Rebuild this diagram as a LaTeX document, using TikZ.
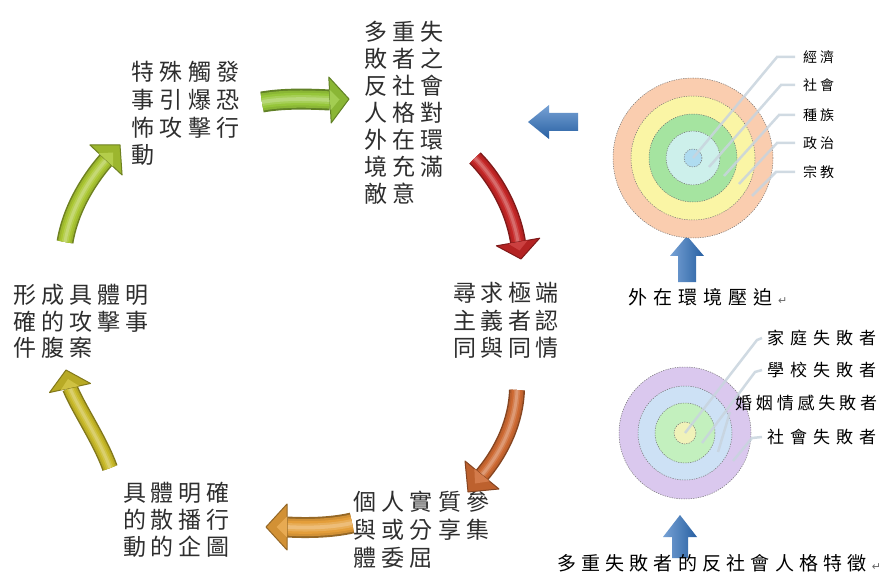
\documentclass[tikz,border=0pt]{standalone}
\usepackage{fontspec}
\newfontfamily\cjk{Noto Sans CJK TC}
\newfontfamily\dvs{DejaVu Sans}
\usetikzlibrary{calc}
\definecolor{grnT}{RGB}{150,198,58}
\definecolor{redA}{RGB}{196,38,38}
\definecolor{orgA}{RGB}{205,105,50}
\definecolor{gldA}{RGB}{228,158,58}
\definecolor{olvA}{RGB}{200,185,40}
\definecolor{ygrA}{RGB}{170,198,50}
\definecolor{bluA}{RGB}{46,112,190}
\definecolor{peachA}{RGB}{250,205,175}
\definecolor{yelA}{RGB}{250,245,165}
\definecolor{grnC}{RGB}{165,228,160}
\definecolor{cyaC}{RGB}{205,240,235}
\definecolor{bluC}{RGB}{175,220,240}
\definecolor{lavD}{RGB}{218,200,238}
\definecolor{bluD}{RGB}{205,225,245}
\definecolor{grnD}{RGB}{195,240,190}
\definecolor{yelD}{RGB}{240,242,185}
\definecolor{leadC}{RGB}{200,212,222}
\newcommand\cjrow[2]{\def\cjw{#1}\edef\cjtmp{#2}\expandafter\cjrowaux\cjtmp\relax}
\def\cjrowaux#1{\ifx#1\relax\else\makebox[\cjw][l]{#1}\expandafter\cjrowaux\fi}
\newcommand\tubearrow[8]{%
  \draw[line width=#7, #6!65!black] (#1) .. controls (#2) and (#3) .. (#4);
  \draw[line width=#7*0.82, #6!92!black] (#1) .. controls (#2) and (#3) .. (#4);
  \draw[line width=#7*0.6, #6] (#1) .. controls (#2) and (#3) .. (#4);
  \draw[line width=#7*0.38, #6!85!white] (#1) .. controls (#2) and (#3) .. (#4);
  \draw[line width=#7*0.18, #6!68!white] (#1) .. controls (#2) and (#3) .. (#4);
  \filldraw[fill=#6!92!black, draw=#6!65!black, line width=1pt, line join=round]
    ($(#4)!#8!90:(#5)$) -- (#5) -- ($(#4)!#8!-90:(#5)$) -- cycle;
  \fill[#6!88!white] ($(#4)!0.45*#8!90:(#5)$) -- ($(#4)!0.5!(#5)$) -- ($(#4)!0.45*#8!-90:(#5)$) -- cycle;
}
\tikzset{
  mtxt/.style={anchor=west, inner sep=0pt, font=\cjk\fontsize{23}{23}\selectfont, text=black!82},
  rlab/.style={anchor=west, inner xsep=8pt, inner ysep=0pt, font=\cjk\fontsize{14}{14}\selectfont, text=black},
  blab/.style={anchor=west, inner xsep=5pt, inner ysep=0pt, font=\cjk\fontsize{17}{17}\selectfont, text=black},
  captxt/.style={anchor=west, inner sep=0pt, font=\cjk\fontsize{19}{19}\selectfont, text=black},
  ring/.style={circle, inner sep=0pt, draw=black!55, dash pattern=on 1.2pt off 1.2pt, line width=0.5pt},
  lead/.style={draw=leadC, line width=2.5pt, opacity=0.85},
  bluev/.style={left color=bluA!65!white, right color=bluA!85!black, draw=none},
  blueh/.style={top color=bluA!65!white, bottom color=bluA!85!black, draw=none}
}
\newcommand\retmark{{\dvs\fontsize{11}{11}\selectfont\color{black!60}↵}}
\begin{document}
\begin{tikzpicture}[x=1pt, y=-1pt]
\useasboundingbox (0,0) rectangle (889,588);
\fill[white] (0,0) rectangle (889,588);

% ---------- text blocks of the cycle ----------
\foreach \r [count=\i from 0] in {多重失,敗者之,反社會,人格對,外在環,境充滿,敵意}
  \node[mtxt] (ra\i) at (364,{32+27*\i}) {\cjrow{28pt}{\r}};
\foreach \r [count=\i from 0] in {特殊觸發,事引爆恐,怖攻擊行,動}
  \node[mtxt] (rb\i) at (131,{72+27.7*\i}) {\cjrow{28.5pt}{\r}};
\foreach \r [count=\i from 0] in {形成具體明,確的攻擊事,件腹案}
  \node[mtxt] (rc\i) at (13,{295+26.5*\i}) {\cjrow{28pt}{\r}};
\foreach \r [count=\i from 0] in {尋求極端,主義者認,同與同情}
  \node[mtxt] (rd\i) at (453,{293+27.5*\i}) {\cjrow{27.5pt}{\r}};
\foreach \r [count=\i from 0] in {具體明確,的散播行,動的企圖}
  \node[mtxt] (re\i) at (123,{493+27*\i}) {\cjrow{27.7pt}{\r}};
\foreach \r [count=\i from 0] in {個人實質參,與或分享集,體委屈}
  \node[mtxt] (rf\i) at (353,{502+28*\i}) {\cjrow{28.3pt}{\r}};

% ---------- cycle arrows ----------
\coordinate (g1t) at (262,102); \coordinate (g1a) at (285,98);
\coordinate (g1b) at (310,99);  \coordinate (g1e) at (330,100); \coordinate (g1p) at (349,99);
\tubearrow{g1t}{g1a}{g1b}{g1e}{g1p}{grnT}{21pt}{23pt}

\coordinate (g2t) at (475,158); \coordinate (g2a) at (492,175);
\coordinate (g2b) at (512,205); \coordinate (g2e) at (518,242); \coordinate (g2p) at (521,259);
\tubearrow{g2t}{g2a}{g2b}{g2e}{g2p}{redA}{16pt}{22pt}

\coordinate (g3t) at (517,390); \coordinate (g3a) at (516,420);
\coordinate (g3b) at (503,450); \coordinate (g3e) at (482,475); \coordinate (g3p) at (468,492);
\tubearrow{g3t}{g3a}{g3b}{g3e}{g3p}{orgA}{16pt}{22pt}

\coordinate (g4t) at (352,523); \coordinate (g4a) at (330,528);
\coordinate (g4b) at (305,528); \coordinate (g4e) at (287,527); \coordinate (g4p) at (266,527);
\tubearrow{g4t}{g4a}{g4b}{g4e}{g4p}{gldA}{21pt}{23pt}

\coordinate (g5t) at (110,468); \coordinate (g5a) at (100,440);
\coordinate (g5b) at (78,408);  \coordinate (g5e) at (70,388); \coordinate (g5p) at (66,370);
\tubearrow{g5t}{g5a}{g5b}{g5e}{g5p}{olvA}{16pt}{21pt}

\coordinate (g6t) at (65,242); \coordinate (g6a) at (70,212);
\coordinate (g6b) at (86,183); \coordinate (g6e) at (106,160); \coordinate (g6p) at (120,145);
\tubearrow{g6t}{g6a}{g6b}{g6e}{g6p}{ygrA}{17pt}{22pt}

% ---------- blue block arrows ----------
\coordinate (bl) at (528,122);
\shade[blueh] (bl) -- ++(21,-17) -- ++(0,8) -- ++(29,0) -- ++(0,18) -- ++(-29,0) -- ++(0,8) -- cycle;
\coordinate (bu1) at (687,236);
\shade[bluev] (bu1) -- ++(17,20) -- ++(-8,0) -- ++(0,26) -- ++(-18,0) -- ++(0,-26) -- ++(-8,0) -- cycle;
\coordinate (bu2) at (680,515);
\shade[bluev] (bu2) -- ++(17,22) -- ++(-9,0) -- ++(0,21) -- ++(-16,0) -- ++(0,-21) -- ++(-9,0) -- cycle;

% ---------- upper concentric circles ----------
\node[ring, fill=peachA, minimum size=160pt] (cu1) at (693,158) {};
\node[ring, fill=yelA,   minimum size=124pt] (cu2) at (693,158) {};
\node[ring, fill=grnC,   minimum size=88pt]  (cu3) at (693,158) {};
\node[ring, fill=cyaC,   minimum size=54pt]  (cu4) at (693,158) {};
\node[ring, fill=bluC,   minimum size=18pt]  (cu5) at (693,158) {};

\node[rlab] (lu1) at (795,57)  {\cjrow{17pt}{經濟}};
\node[rlab] (lu2) at (795,85)  {\cjrow{17pt}{社會}};
\node[rlab] (lu3) at (795,115) {\cjrow{17pt}{種族}};
\node[rlab] (lu4) at (795,143) {\cjrow{17pt}{政治}};
\node[rlab] (lu5) at (795,172) {\cjrow{17pt}{宗教}};

\draw[lead] (cu5.center) -- (777,57) -- (lu1.west);
\draw[lead] (709,167) -- (781,85) -- (lu2.west);
\draw[lead] (724,176) -- (779,115) -- (lu3.west);
\draw[lead] (739,184) -- (777,143) -- (lu4.west);
\draw[lead] (752,196) -- (776,172) -- (lu5.west);

\node[captxt] (capu) at (628,297) {\cjrow{25pt}{外在環境壓迫}\retmark};

% ---------- lower concentric circles ----------
\node[ring, fill=lavD, minimum size=132pt] (cd1) at (685,433) {};
\node[ring, fill=bluD, minimum size=94pt]  (cd2) at (685,433) {};
\node[ring, fill=grnD, minimum size=60pt]  (cd3) at (685,433) {};
\node[ring, fill=yelD, minimum size=22pt]  (cd4) at (685,433) {};

\node[blab] (ld1) at (762,338) {\cjrow{23pt}{家庭失敗者}};
\node[blab] (ld2) at (762,370) {\cjrow{23pt}{學校失敗者}};
\node[blab] (ld3) at (730,403) {\cjrow{20.8pt}{婚姻情感失敗者}};
\node[blab] (ld4) at (762,437) {\cjrow{23pt}{社會失敗者}};

\draw[lead] (cd4.center) -- (757,340) -- (ld1.west);
\draw[lead] (702,443) -- (755,372) -- (ld2.west);
\draw[lead] (718,452) -- (730,412);
\draw[lead] (733,461) -- (752,438) -- (ld4.west);

\node[captxt] (capd) at (557,563) {\cjrow{24.2pt}{多重失敗者的反社會人格特徵}\retmark};
\end{tikzpicture}
\end{document}
